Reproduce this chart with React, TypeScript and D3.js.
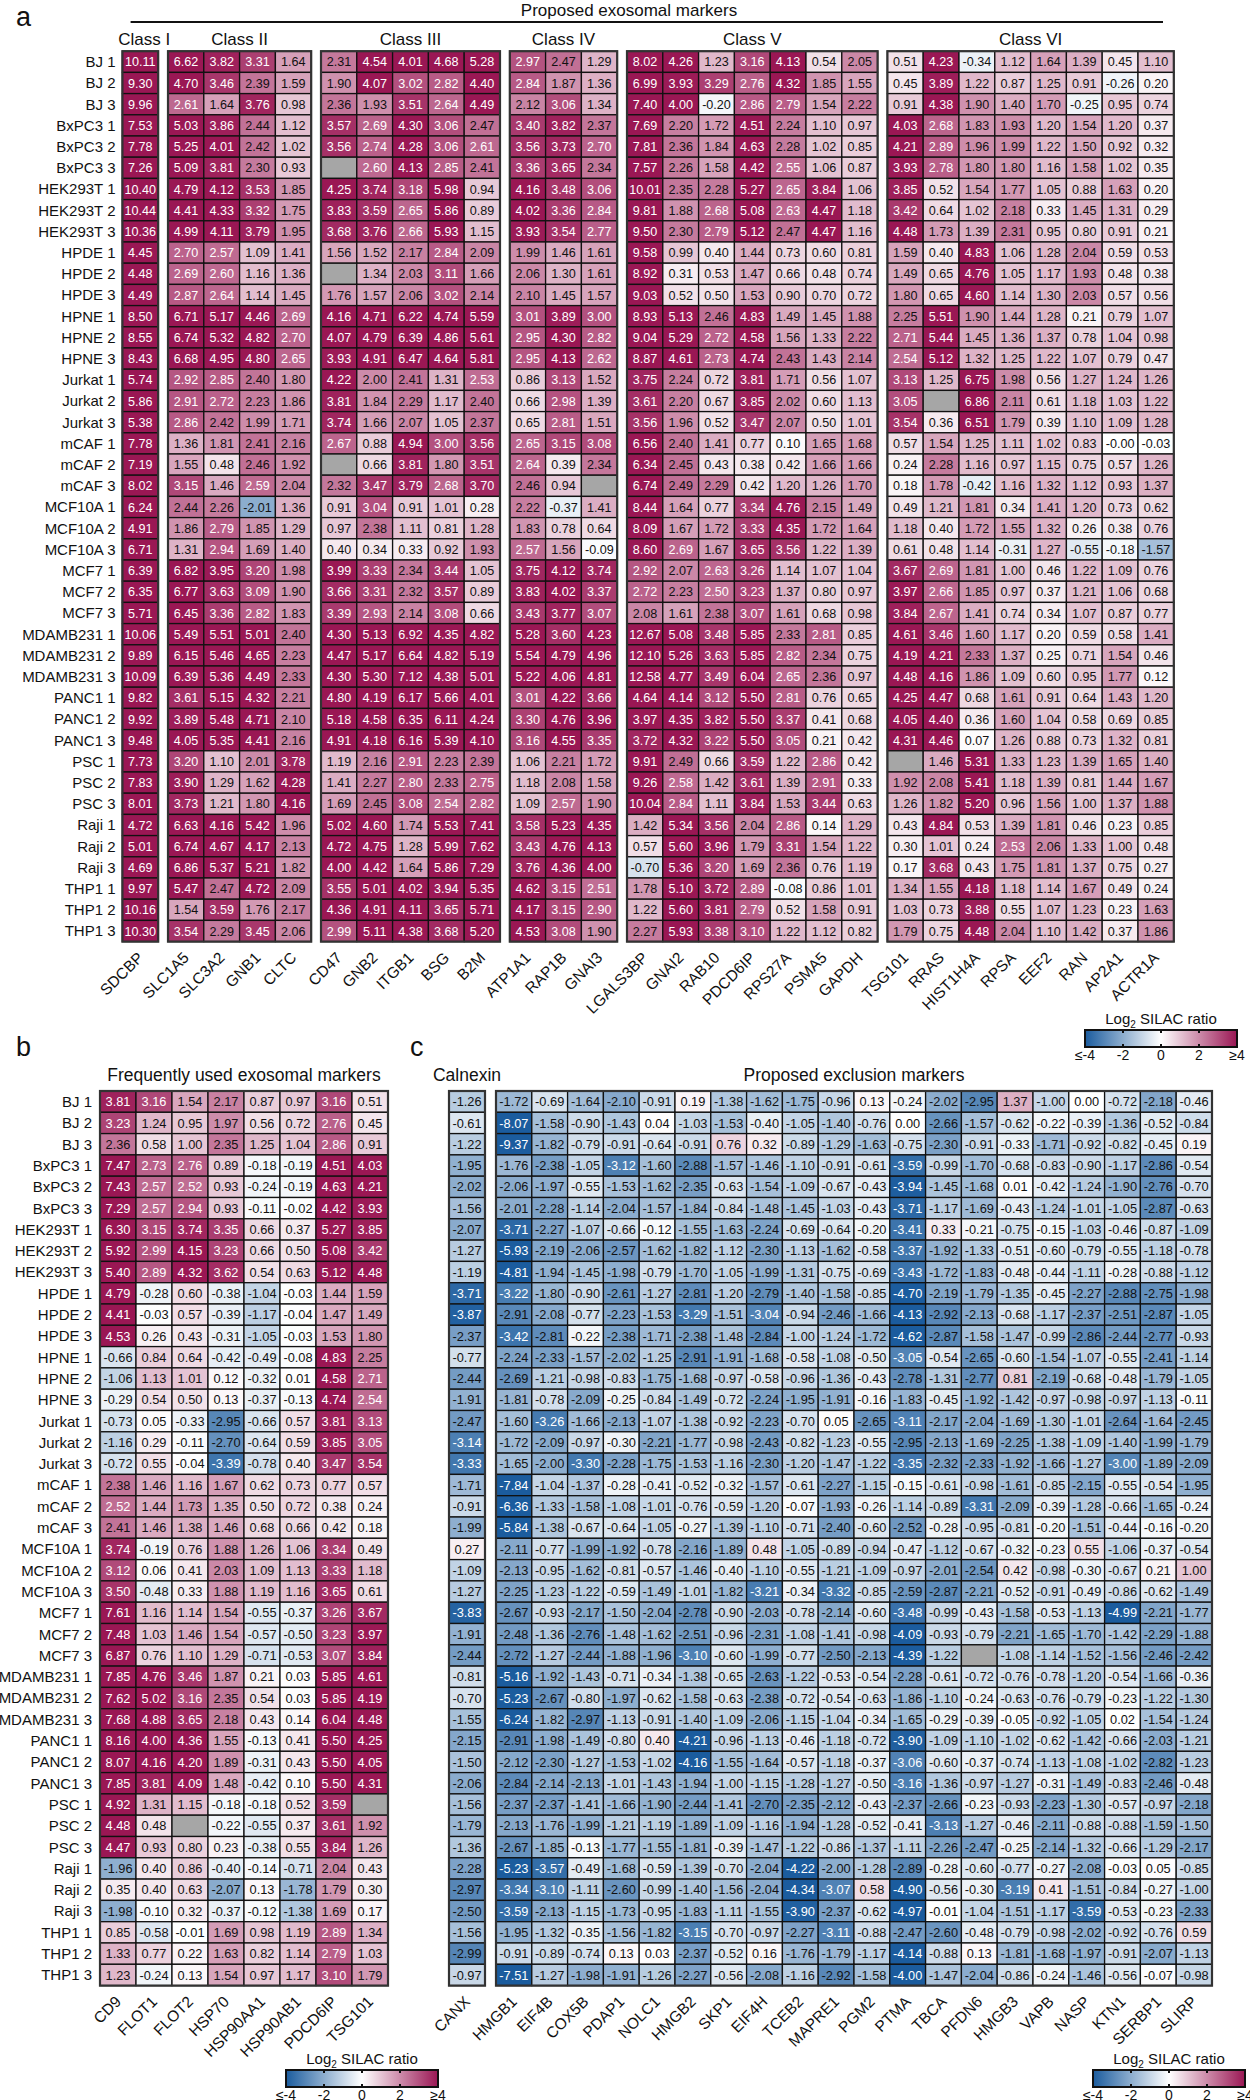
import React from "react";
import * as d3 from "d3";

const FONT = "'Liberation Sans', Arial, Helvetica, sans-serif";
const N = null;

const cellLines = [
  "BJ 1", "BJ 2", "BJ 3", "BxPC3 1", "BxPC3 2", "BxPC3 3", "HEK293T 1", "HEK293T 2", "HEK293T 3",
  "HPDE 1", "HPDE 2", "HPDE 3", "HPNE 1", "HPNE 2", "HPNE 3", "Jurkat 1", "Jurkat 2", "Jurkat 3",
  "mCAF 1", "mCAF 2", "mCAF 3", "MCF10A 1", "MCF10A 2", "MCF10A 3", "MCF7 1", "MCF7 2", "MCF7 3",
  "MDAMB231 1", "MDAMB231 2", "MDAMB231 3", "PANC1 1", "PANC1 2", "PANC1 3", "PSC 1", "PSC 2", "PSC 3",
  "Raji 1", "Raji 2", "Raji 3", "THP1 1", "THP1 2", "THP1 3",
];

const classLabels = ["Class I", "Class II", "Class III", "Class IV", "Class V", "Class VI"];
const classGenes = [
  ["SDCBP"],
  ["SLC1A5", "SLC3A2", "GNB1", "CLTC"],
  ["CD47", "GNB2", "ITGB1", "BSG", "B2M"],
  ["ATP1A1", "RAP1B", "GNAI3"],
  ["LGALS3BP", "GNAI2", "RAB10", "PDCD6IP", "RPS27A", "PSMA5", "GAPDH"],
  ["TSG101", "RRAS", "HIST1H4A", "RPSA", "EEF2", "RAN", "AP2A1", "ACTR1A"],
];

// Panel a: 42 rows x 28 genes (Class I..VI in order)
const proposedMarkers: (number | null)[][] = [
  [10.11, 6.62, 3.82, 3.31, 1.64, 2.31, 4.54, 4.01, 4.68, 5.28, 2.97, 2.47, 1.29, 8.02, 4.26, 1.23, 3.16, 4.13, 0.54, 2.05, 0.51, 4.23, -0.34, 1.12, 1.64, 1.39, 0.45, 1.10],
  [9.30, 4.70, 3.46, 2.39, 1.59, 1.90, 4.07, 3.02, 2.82, 4.40, 2.84, 1.87, 1.36, 6.99, 3.93, 3.29, 2.76, 4.32, 1.85, 1.55, 0.45, 3.89, 1.22, 0.87, 1.25, 0.91, -0.26, 0.20],
  [9.96, 2.61, 1.64, 3.76, 0.98, 2.36, 1.93, 3.51, 2.64, 4.49, 2.12, 3.06, 1.34, 7.40, 4.00, -0.20, 2.86, 2.79, 1.54, 2.22, 0.91, 4.38, 1.90, 1.40, 1.70, -0.25, 0.95, 0.74],
  [7.53, 5.03, 3.86, 2.44, 1.12, 3.57, 2.69, 4.30, 3.06, 2.47, 3.40, 3.82, 2.37, 7.69, 2.20, 1.72, 4.51, 2.24, 1.10, 0.97, 4.03, 2.68, 1.83, 1.93, 1.20, 1.54, 1.20, 0.37],
  [7.78, 5.25, 4.01, 2.42, 1.02, 3.56, 2.74, 4.28, 3.06, 2.61, 3.56, 3.73, 2.70, 7.81, 2.36, 1.84, 4.63, 2.28, 1.02, 0.85, 4.21, 2.89, 1.96, 1.99, 1.22, 1.50, 0.92, 0.32],
  [7.26, 5.09, 3.81, 2.30, 0.93, N, 2.60, 4.13, 2.85, 2.41, 3.36, 3.65, 2.34, 7.57, 2.26, 1.58, 4.42, 2.55, 1.06, 0.87, 3.93, 2.78, 1.80, 1.80, 1.16, 1.58, 1.02, 0.35],
  [10.40, 4.79, 4.12, 3.53, 1.85, 4.25, 3.74, 3.18, 5.98, 0.94, 4.16, 3.48, 3.06, 10.01, 2.35, 2.28, 5.27, 2.65, 3.84, 1.06, 3.85, 0.52, 1.54, 1.77, 1.05, 0.88, 1.63, 0.20],
  [10.44, 4.41, 4.33, 3.32, 1.75, 3.83, 3.59, 2.65, 5.86, 0.89, 4.02, 3.36, 2.84, 9.81, 1.88, 2.68, 5.08, 2.63, 4.47, 1.18, 3.42, 0.64, 1.02, 2.18, 0.33, 1.45, 1.31, 0.29],
  [10.36, 4.99, 4.11, 3.79, 1.95, 3.68, 3.76, 2.66, 5.93, 1.15, 3.93, 3.54, 2.77, 9.50, 2.30, 2.79, 5.12, 2.47, 4.47, 1.16, 4.48, 1.73, 1.39, 2.31, 0.95, 0.80, 0.91, 0.21],
  [4.45, 2.70, 2.57, 1.09, 1.41, 1.56, 1.52, 2.17, 2.84, 2.09, 1.99, 1.46, 1.61, 9.58, 0.99, 0.40, 1.44, 0.73, 0.60, 0.81, 1.59, 0.40, 4.83, 1.06, 1.28, 2.04, 0.59, 0.53],
  [4.48, 2.69, 2.60, 1.16, 1.36, N, 1.34, 2.03, 3.11, 1.66, 2.06, 1.30, 1.61, 8.92, 0.31, 0.53, 1.47, 0.66, 0.48, 0.74, 1.49, 0.65, 4.76, 1.05, 1.17, 1.93, 0.48, 0.38],
  [4.49, 2.87, 2.64, 1.14, 1.45, 1.76, 1.57, 2.06, 3.02, 2.14, 2.10, 1.45, 1.57, 9.03, 0.52, 0.50, 1.53, 0.90, 0.70, 0.72, 1.80, 0.65, 4.60, 1.14, 1.30, 2.03, 0.57, 0.56],
  [8.50, 6.71, 5.17, 4.46, 2.69, 4.16, 4.71, 6.22, 4.74, 5.59, 3.01, 3.89, 3.00, 8.93, 5.13, 2.46, 4.83, 1.49, 1.45, 1.88, 2.25, 5.51, 1.90, 1.44, 1.28, 0.21, 0.79, 1.07],
  [8.55, 6.74, 5.32, 4.82, 2.70, 4.07, 4.79, 6.39, 4.86, 5.61, 2.95, 4.30, 2.82, 9.04, 5.29, 2.72, 4.58, 1.56, 1.33, 2.22, 2.71, 5.44, 1.45, 1.36, 1.37, 0.78, 1.04, 0.98],
  [8.43, 6.68, 4.95, 4.80, 2.65, 3.93, 4.91, 6.47, 4.64, 5.81, 2.95, 4.13, 2.62, 8.87, 4.61, 2.73, 4.74, 2.43, 1.43, 2.14, 2.54, 5.12, 1.32, 1.25, 1.22, 1.07, 0.79, 0.47],
  [5.74, 2.92, 2.85, 2.40, 1.80, 4.22, 2.00, 2.41, 1.31, 2.53, 0.86, 3.13, 1.52, 3.75, 2.24, 0.72, 3.81, 1.71, 0.56, 1.07, 3.13, 1.25, 6.75, 1.98, 0.56, 1.27, 1.24, 1.26],
  [5.86, 2.91, 2.72, 2.23, 1.86, 3.81, 1.84, 2.29, 1.17, 2.40, 0.66, 2.98, 1.39, 3.61, 2.20, 0.67, 3.85, 2.02, 0.60, 1.13, 3.05, N, 6.86, 2.11, 0.61, 1.18, 1.03, 1.22],
  [5.38, 2.86, 2.42, 1.99, 1.71, 3.74, 1.66, 2.07, 1.05, 2.37, 0.65, 2.81, 1.51, 3.56, 1.96, 0.52, 3.47, 2.07, 0.50, 1.01, 3.54, 0.36, 6.51, 1.79, 0.39, 1.10, 1.09, 1.28],
  [7.78, 1.36, 1.81, 2.41, 2.16, 2.67, 0.88, 4.94, 3.00, 3.56, 2.65, 3.15, 3.08, 6.56, 2.40, 1.41, 0.77, 0.10, 1.65, 1.68, 0.57, 1.54, 1.25, 1.11, 1.02, 0.83, -0.00, -0.03],
  [7.19, 1.55, 0.48, 2.46, 1.92, N, 0.66, 3.81, 1.80, 3.51, 2.64, 0.39, 2.34, 6.34, 2.45, 0.43, 0.38, 0.42, 1.66, 1.66, 0.24, 2.28, 1.16, 0.97, 1.15, 0.75, 0.57, 1.26],
  [8.02, 3.15, 1.46, 2.59, 2.04, 2.32, 3.47, 3.79, 2.68, 3.70, 2.46, 0.94, N, 6.74, 2.49, 2.29, 0.42, 1.20, 1.26, 1.70, 0.18, 1.78, -0.42, 1.16, 1.32, 1.12, 0.93, 1.37],
  [6.24, 2.44, 2.26, -2.01, 1.36, 0.91, 3.04, 0.91, 1.01, 0.28, 2.22, -0.37, 1.41, 8.44, 1.64, 0.77, 3.34, 4.76, 2.15, 1.49, 0.49, 1.21, 1.81, 0.34, 1.41, 1.20, 0.73, 0.62],
  [4.91, 1.86, 2.79, 1.85, 1.29, 0.97, 2.38, 1.11, 0.81, 1.28, 1.83, 0.78, 0.64, 8.09, 1.67, 1.72, 3.33, 4.35, 1.72, 1.64, 1.18, 0.40, 1.72, 1.55, 1.32, 0.26, 0.38, 0.76],
  [6.71, 1.31, 2.94, 1.69, 1.40, 0.40, 0.34, 0.33, 0.92, 1.93, 2.57, 1.56, -0.09, 8.60, 2.69, 1.67, 3.65, 3.56, 1.22, 1.39, 0.61, 0.48, 1.14, -0.31, 1.27, -0.55, -0.18, -1.57],
  [6.39, 6.82, 3.95, 3.20, 1.98, 3.99, 3.33, 2.34, 3.44, 1.05, 3.75, 4.12, 3.74, 2.92, 2.07, 2.63, 3.26, 1.14, 1.07, 1.04, 3.67, 2.69, 1.81, 1.00, 0.46, 1.22, 1.09, 0.76],
  [6.35, 6.77, 3.63, 3.09, 1.90, 3.66, 3.31, 2.32, 3.57, 0.89, 3.83, 4.02, 3.37, 2.72, 2.23, 2.50, 3.23, 1.37, 0.80, 0.97, 3.97, 2.66, 1.85, 0.97, 0.37, 1.21, 1.06, 0.68],
  [5.71, 6.45, 3.36, 2.82, 1.83, 3.39, 2.93, 2.14, 3.08, 0.66, 3.43, 3.77, 3.07, 2.08, 1.61, 2.38, 3.07, 1.61, 0.68, 0.98, 3.84, 2.67, 1.41, 0.74, 0.34, 1.07, 0.87, 0.77],
  [10.06, 5.49, 5.51, 5.01, 2.40, 4.30, 5.13, 6.92, 4.35, 4.82, 5.28, 3.60, 4.23, 12.67, 5.08, 3.48, 5.85, 2.33, 2.81, 0.85, 4.61, 3.46, 1.60, 1.17, 0.20, 0.59, 0.58, 1.41],
  [9.89, 6.15, 5.46, 4.65, 2.23, 4.47, 5.17, 6.64, 4.82, 5.19, 5.54, 4.79, 4.96, 12.10, 5.26, 3.63, 5.85, 2.82, 2.34, 0.75, 4.19, 4.21, 2.33, 1.37, 0.25, 0.71, 1.54, 0.46],
  [10.09, 6.39, 5.36, 4.49, 2.33, 4.30, 5.30, 7.12, 4.38, 5.01, 5.22, 4.06, 4.81, 12.58, 4.77, 3.49, 6.04, 2.65, 2.36, 0.97, 4.48, 4.16, 1.86, 1.09, 0.60, 0.95, 1.77, 0.12],
  [9.82, 3.61, 5.15, 4.32, 2.21, 4.80, 4.19, 6.17, 5.66, 4.01, 3.01, 4.22, 3.66, 4.64, 4.14, 3.12, 5.50, 2.81, 0.76, 0.65, 4.25, 4.47, 0.68, 1.61, 0.91, 0.64, 1.43, 1.20],
  [9.92, 3.89, 5.48, 4.71, 2.10, 5.18, 4.58, 6.35, 6.11, 4.24, 3.30, 4.76, 3.96, 3.97, 4.35, 3.82, 5.50, 3.37, 0.41, 0.68, 4.05, 4.40, 0.36, 1.60, 1.04, 0.58, 0.69, 0.85],
  [9.48, 4.05, 5.35, 4.41, 2.16, 4.91, 4.18, 6.16, 5.39, 4.10, 3.16, 4.55, 3.35, 3.72, 4.32, 3.22, 5.50, 3.05, 0.21, 0.42, 4.31, 4.46, 0.07, 1.26, 0.88, 0.73, 1.32, 0.81],
  [7.73, 3.20, 1.10, 2.01, 3.78, 1.19, 2.16, 2.91, 2.23, 2.39, 1.06, 2.21, 1.72, 9.91, 2.49, 0.66, 3.59, 1.22, 2.86, 0.42, N, 1.46, 5.31, 1.33, 1.23, 1.39, 1.65, 1.40],
  [7.83, 3.90, 1.29, 1.62, 4.28, 1.41, 2.27, 2.80, 2.33, 2.75, 1.18, 2.08, 1.58, 9.26, 2.58, 1.42, 3.61, 1.39, 2.91, 0.33, 1.92, 2.08, 5.41, 1.18, 1.39, 0.81, 1.44, 1.67],
  [8.01, 3.73, 1.21, 1.80, 4.16, 1.69, 2.45, 3.08, 2.54, 2.82, 1.09, 2.57, 1.90, 10.04, 2.84, 1.11, 3.84, 1.53, 3.44, 0.63, 1.26, 1.82, 5.20, 0.96, 1.56, 1.00, 1.37, 1.88],
  [4.72, 6.63, 4.16, 5.42, 1.96, 5.02, 4.60, 1.74, 5.53, 7.41, 3.58, 5.23, 4.35, 1.42, 5.34, 3.56, 2.04, 2.86, 0.14, 1.29, 0.43, 4.84, 0.53, 1.39, 1.81, 0.46, 0.23, 0.85],
  [5.01, 6.74, 4.67, 4.17, 2.13, 4.72, 4.75, 1.28, 5.99, 7.62, 3.43, 4.76, 4.13, 0.57, 5.60, 3.96, 1.79, 3.31, 1.54, 1.22, 0.30, 1.01, 0.24, 2.53, 2.06, 1.33, 1.00, 0.48],
  [4.69, 6.86, 5.37, 5.21, 1.82, 4.00, 4.42, 1.64, 5.86, 7.29, 3.76, 4.36, 4.00, -0.70, 5.36, 3.20, 1.69, 2.36, 0.76, 1.19, 0.17, 3.68, 0.43, 1.75, 1.81, 1.37, 0.75, 0.27],
  [9.97, 5.47, 2.47, 4.72, 2.09, 3.55, 5.01, 4.02, 3.94, 5.35, 4.62, 3.15, 2.51, 1.78, 5.10, 3.72, 2.89, -0.08, 0.86, 1.01, 1.34, 1.55, 4.18, 1.18, 1.14, 1.67, 0.49, 0.24],
  [10.16, 1.54, 3.59, 1.76, 2.17, 4.36, 4.91, 4.11, 3.65, 5.71, 4.17, 3.15, 2.90, 1.22, 5.60, 3.81, 2.79, 0.52, 1.58, 0.91, 1.03, 0.73, 3.88, 0.55, 1.07, 1.23, 0.23, 1.63],
  [10.30, 3.54, 2.29, 3.45, 2.06, 2.99, 5.11, 4.38, 3.68, 5.20, 4.53, 3.08, 1.90, 2.27, 5.93, 3.38, 3.10, 1.22, 1.12, 0.82, 1.79, 0.75, 4.48, 2.04, 1.10, 1.42, 0.37, 1.86],
];

// Panel b
const frequentGenes = ["CD9", "FLOT1", "FLOT2", "HSP70", "HSP90AA1", "HSP90AB1", "PDCD6IP", "TSG101"];
const frequentMarkers: (number | null)[][] = [
  [3.81, 3.16, 1.54, 2.17, 0.87, 0.97, 3.16, 0.51],
  [3.23, 1.24, 0.95, 1.97, 0.56, 0.72, 2.76, 0.45],
  [2.36, 0.58, 1.00, 2.35, 1.25, 1.04, 2.86, 0.91],
  [7.47, 2.73, 2.76, 0.89, -0.18, -0.19, 4.51, 4.03],
  [7.43, 2.57, 2.52, 0.93, -0.24, -0.19, 4.63, 4.21],
  [7.29, 2.57, 2.94, 0.93, -0.11, -0.02, 4.42, 3.93],
  [6.30, 3.15, 3.74, 3.35, 0.66, 0.37, 5.27, 3.85],
  [5.92, 2.99, 4.15, 3.23, 0.66, 0.50, 5.08, 3.42],
  [5.40, 2.89, 4.32, 3.62, 0.54, 0.63, 5.12, 4.48],
  [4.79, -0.28, 0.60, -0.38, -1.04, -0.03, 1.44, 1.59],
  [4.41, -0.03, 0.57, -0.39, -1.17, -0.04, 1.47, 1.49],
  [4.53, 0.26, 0.43, -0.31, -1.05, -0.03, 1.53, 1.80],
  [-0.66, 0.84, 0.64, -0.42, -0.49, -0.08, 4.83, 2.25],
  [-1.06, 1.13, 1.01, 0.12, -0.32, 0.01, 4.58, 2.71],
  [-0.29, 0.54, 0.50, 0.13, -0.37, -0.13, 4.74, 2.54],
  [-0.73, 0.05, -0.33, -2.95, -0.66, 0.57, 3.81, 3.13],
  [-1.16, 0.29, -0.11, -2.70, -0.64, 0.59, 3.85, 3.05],
  [-0.72, 0.55, -0.04, -3.39, -0.78, 0.40, 3.47, 3.54],
  [2.38, 1.46, 1.16, 1.67, 0.62, 0.73, 0.77, 0.57],
  [2.52, 1.44, 1.73, 1.35, 0.50, 0.72, 0.38, 0.24],
  [2.41, 1.46, 1.38, 1.46, 0.68, 0.66, 0.42, 0.18],
  [3.74, -0.19, 0.76, 1.88, 1.26, 1.06, 3.34, 0.49],
  [3.12, 0.06, 0.41, 2.03, 1.09, 1.13, 3.33, 1.18],
  [3.50, -0.48, 0.33, 1.88, 1.19, 1.16, 3.65, 0.61],
  [7.61, 1.16, 1.14, 1.54, -0.55, -0.37, 3.26, 3.67],
  [7.48, 1.03, 1.46, 1.54, -0.57, -0.50, 3.23, 3.97],
  [6.87, 0.76, 1.10, 1.29, -0.71, -0.53, 3.07, 3.84],
  [7.85, 4.76, 3.46, 1.87, 0.21, 0.03, 5.85, 4.61],
  [7.62, 5.02, 3.16, 2.35, 0.54, 0.03, 5.85, 4.19],
  [7.68, 4.88, 3.65, 2.18, 0.43, 0.14, 6.04, 4.48],
  [8.16, 4.00, 4.36, 1.55, -0.13, 0.41, 5.50, 4.25],
  [8.07, 4.16, 4.20, 1.89, -0.31, 0.43, 5.50, 4.05],
  [7.85, 3.81, 4.09, 1.48, -0.42, 0.10, 5.50, 4.31],
  [4.92, 1.31, 1.15, -0.18, -0.18, 0.52, 3.59, N],
  [4.48, 0.48, N, -0.22, -0.55, 0.37, 3.61, 1.92],
  [4.47, 0.93, 0.80, 0.23, -0.38, 0.55, 3.84, 1.26],
  [-1.96, 0.40, 0.86, -0.40, -0.14, -0.71, 2.04, 0.43],
  [0.35, 0.40, 0.63, -2.07, 0.13, -1.78, 1.79, 0.30],
  [-1.98, -0.10, 0.32, -0.37, -0.12, -1.38, 1.69, 0.17],
  [0.85, -0.58, -0.01, 1.69, 0.98, 1.19, 2.89, 1.34],
  [1.33, 0.77, 0.22, 1.63, 0.82, 1.14, 2.79, 1.03],
  [1.23, -0.24, 0.13, 1.54, 0.97, 1.17, 3.10, 1.79],
];

// Panel c
const calnexin: number[] = [
  -1.26, -0.61, -1.22, -1.95, -2.02, -1.56, -2.07, -1.27, -1.19, -3.71, -3.87, -2.37, -0.77, -2.44,
  -1.91, -2.47, -3.14, -3.33, -1.71, -0.91, -1.99, 0.27, -1.09, -1.27, -3.83, -1.91, -2.44, -0.81,
  -0.70, -1.55, -2.15, -1.50, -2.06, -1.56, -1.79, -1.36, -2.28, -2.97, -2.50, -1.56, -2.99, -0.97,
];
const exclusionGenes = [
  "HMGB1", "EIF4B", "COX5B", "PDAP1", "NOLC1", "HMGB2", "SKP1", "EIF4H", "TCEB2", "MAPRE1",
  "PGM2", "PTMA", "TBCA", "PFDN6", "HMGB3", "VAPB", "NASP", "KTN1", "SERBP1", "SLIRP",
];
const exclusionMarkers: (number | null)[][] = [
  [-1.72, -0.69, -1.64, -2.10, -0.91, 0.19, -1.38, -1.62, -1.75, -0.96, 0.13, -0.24, -2.02, -2.95, 1.37, -1.00, 0.00, -0.72, -2.18, -0.46],
  [-8.07, -1.58, -0.90, -1.43, 0.04, -1.03, -1.53, -0.40, -1.05, -1.40, -0.76, 0.00, -2.66, -1.57, -0.62, -0.22, -0.39, -1.36, -0.52, -0.84],
  [-9.37, -1.82, -0.79, -0.91, -0.64, -0.91, 0.76, 0.32, -0.89, -1.29, -1.63, -0.75, -2.30, -0.91, -0.33, -1.71, -0.92, -0.82, -0.45, 0.19],
  [-1.76, -2.38, -1.05, -3.12, -1.60, -2.88, -1.57, -1.46, -1.10, -0.91, -0.61, -3.59, -0.99, -1.70, -0.68, -0.83, -0.90, -1.17, -2.86, -0.54],
  [-2.06, -1.97, -0.55, -1.53, -1.62, -2.35, -0.63, -1.54, -1.09, -0.67, -0.43, -3.94, -1.45, -1.68, 0.01, -0.42, -1.24, -1.90, -2.76, -0.70],
  [-2.01, -2.28, -1.14, -2.04, -1.57, -1.84, -0.84, -1.48, -1.45, -1.03, -0.43, -3.71, -1.17, -1.69, -0.43, -1.24, -1.01, -1.05, -2.87, -0.63],
  [-3.71, -2.27, -1.07, -0.66, -0.12, -1.55, -1.63, -2.24, -0.69, -0.64, -0.20, -3.41, 0.33, -0.21, -0.75, -0.15, -1.03, -0.46, -0.87, -1.09],
  [-5.93, -2.19, -2.06, -2.57, -1.62, -1.82, -1.12, -2.30, -1.13, -1.62, -0.58, -3.37, -1.92, -1.33, -0.51, -0.60, -0.79, -0.55, -1.18, -0.78],
  [-4.81, -1.94, -1.45, -1.98, -0.79, -1.70, -1.05, -1.99, -1.31, -0.75, -0.69, -3.43, -1.72, -1.83, -0.48, -0.44, -1.11, -0.28, -0.88, -1.12],
  [-3.22, -1.80, -0.90, -2.61, -1.27, -2.81, -1.20, -2.79, -1.40, -1.58, -0.85, -4.70, -2.19, -1.79, -1.35, -0.45, -2.27, -2.88, -2.75, -1.98],
  [-2.91, -2.08, -0.77, -2.23, -1.53, -3.29, -1.51, -3.04, -0.94, -2.46, -1.66, -4.13, -2.92, -2.13, -0.68, -1.17, -2.37, -2.51, -2.87, -1.05],
  [-3.42, -2.81, -0.22, -2.38, -1.71, -2.38, -1.48, -2.84, -1.00, -1.24, -1.72, -4.62, -2.87, -1.58, -1.47, -0.99, -2.86, -2.44, -2.77, -0.93],
  [-2.24, -2.33, -1.57, -2.02, -1.25, -2.91, -1.91, -1.68, -0.58, -1.08, -0.50, -3.05, -0.54, -2.65, -0.60, -1.54, -1.07, -0.55, -2.41, -1.14],
  [-2.69, -1.21, -0.98, -0.83, -1.75, -1.68, -0.97, -0.58, -0.96, -1.36, -0.43, -2.78, -1.31, -2.77, 0.81, -2.19, -0.68, -0.48, -1.79, -1.05],
  [-1.81, -0.78, -2.09, -0.25, -0.84, -1.49, -0.72, -2.24, -1.95, -1.91, -0.16, -1.83, -0.45, -1.92, -1.42, -0.97, -0.98, -0.97, -1.13, -0.11],
  [-1.60, -3.26, -1.66, -2.13, -1.07, -1.38, -0.92, -2.23, -0.70, 0.05, -2.65, -3.11, -2.17, -2.04, -1.69, -1.30, -1.01, -2.64, -1.64, -2.45],
  [-1.72, -2.09, -0.97, -0.30, -2.21, -1.77, -0.98, -2.43, -0.82, -1.23, -0.55, -2.95, -2.13, -1.69, -2.25, -1.38, -1.09, -1.40, -1.99, -1.79],
  [-1.65, -2.00, -3.30, -2.28, -1.75, -1.53, -1.16, -2.30, -1.20, -1.47, -1.22, -3.35, -2.32, -2.33, -1.92, -1.66, -1.27, -3.00, -1.89, -2.09],
  [-7.84, -1.04, -1.37, -0.28, -0.41, -0.52, -0.32, -1.57, -0.61, -2.27, -1.15, -0.15, -0.61, -0.98, -1.61, -0.85, -2.15, -0.55, -0.54, -1.95],
  [-6.36, -1.33, -1.58, -1.08, -1.01, -0.76, -0.59, -1.20, -0.07, -1.93, -0.26, -1.14, -0.89, -3.31, -2.09, -0.39, -1.28, -0.66, -1.65, -0.24],
  [-5.84, -1.38, -0.67, -0.64, -1.05, -0.27, -1.39, -1.10, -0.71, -2.40, -0.60, -2.52, -0.28, -0.95, -0.81, -0.20, -1.51, -0.44, -0.16, -0.20],
  [-2.11, -0.77, -1.99, -1.92, -0.78, -2.16, -1.89, 0.48, -1.05, -0.89, -0.94, -0.47, -1.12, -0.67, -0.32, -0.23, 0.55, -1.06, -0.37, -0.54],
  [-2.13, -0.95, -1.62, -0.81, -0.57, -1.46, -0.40, -1.10, -0.55, -1.21, -1.09, -0.97, -2.01, -2.54, 0.42, -0.98, -0.30, -0.67, 0.21, 1.00],
  [-2.25, -1.23, -1.22, -0.59, -1.49, -1.01, -1.82, -3.21, -0.34, -3.32, -0.85, -2.59, -2.87, -2.21, -0.52, -0.91, -0.49, -0.86, -0.62, -1.49],
  [-2.67, -0.93, -2.17, -1.50, -2.04, -2.78, -0.90, -2.03, -0.78, -2.14, -0.60, -3.48, -0.99, -0.43, -1.58, -0.53, -1.13, -4.99, -2.21, -1.77],
  [-2.48, -1.36, -2.76, -1.48, -1.62, -2.51, -0.96, -2.31, -1.08, -1.41, -0.98, -4.09, -0.93, -0.79, -2.21, -1.65, -1.70, -1.42, -2.29, -1.88],
  [-2.72, -1.27, -2.44, -1.88, -1.96, -3.10, -0.60, -1.99, -0.77, -2.50, -2.13, -4.39, -1.22, N, -1.08, -1.14, -1.52, -1.56, -2.46, -2.42],
  [-5.16, -1.92, -1.43, -0.71, -0.34, -1.38, -0.65, -2.63, -1.22, -0.53, -0.54, -2.28, -0.61, -0.72, -0.76, -0.78, -1.20, -0.54, -1.66, -0.36],
  [-5.23, -2.67, -0.80, -1.97, -0.62, -1.58, -0.63, -2.38, -0.72, -0.54, -0.63, -1.86, -1.10, -0.24, -0.63, -0.76, -0.79, -0.23, -1.22, -1.30],
  [-6.24, -1.82, -2.97, -1.13, -0.91, -1.40, -1.09, -2.06, -1.15, -1.04, -0.34, -1.65, -0.29, -0.39, -0.05, -0.92, -1.05, 0.02, -1.54, -1.24],
  [-2.91, -1.98, -1.49, -0.80, 0.40, -4.21, -0.96, -1.13, -0.46, -1.18, -0.72, -3.90, -1.09, -1.10, -1.02, -0.62, -1.42, -0.66, -2.03, -1.21],
  [-2.12, -2.30, -1.27, -1.53, -1.02, -4.16, -1.55, -1.64, -0.57, -1.18, -0.37, -3.06, -0.60, -0.37, -0.74, -1.13, -1.08, -1.02, -2.82, -1.23],
  [-2.84, -2.14, -2.13, -1.01, -1.43, -1.94, -1.00, -1.15, -1.28, -1.27, -0.50, -3.16, -1.36, -0.97, -1.27, -0.31, -1.49, -0.83, -2.46, -0.48],
  [-2.37, -2.37, -1.41, -1.66, -1.90, -2.44, -1.41, -2.70, -2.35, -2.12, -0.43, -2.37, -2.66, -0.23, -0.93, -2.23, -1.30, -0.57, -0.97, -2.18],
  [-2.13, -1.76, -1.99, -1.21, -1.19, -1.89, -1.09, -1.16, -1.94, -1.28, -0.52, -0.41, -3.13, -1.27, -0.46, -2.11, -0.88, -0.88, -1.59, -1.50],
  [-2.67, -1.85, -0.13, -1.77, -1.55, -1.81, -0.39, -1.47, -1.22, -0.86, -1.37, -1.11, -2.26, -2.47, -0.25, -2.14, -1.32, -0.66, -1.29, -2.17],
  [-5.23, -3.57, -0.49, -1.68, -0.59, -1.39, -0.70, -2.04, -4.22, -2.00, -1.28, -2.89, -0.28, -0.60, -0.77, -0.27, -2.08, -0.03, 0.05, -0.85],
  [-3.34, -3.10, -1.11, -2.60, -0.99, -1.40, -1.56, -2.04, -4.34, -3.07, 0.58, -4.90, -0.56, -0.30, -3.19, 0.41, -1.51, -0.84, -0.27, -1.00],
  [-3.59, -2.13, -1.15, -1.73, -0.95, -1.83, -1.11, -1.55, -3.90, -2.37, -0.62, -4.97, -0.01, -1.04, -1.51, -1.17, -3.59, -0.53, -0.23, -2.33],
  [-1.95, -1.32, -0.35, -1.56, -1.82, -3.15, -0.70, -0.97, -2.27, -3.11, -0.88, -2.47, -2.60, -0.48, -0.79, -0.98, -2.02, -0.92, -0.76, 0.59],
  [-0.91, -0.89, -0.74, 0.13, 0.03, -2.37, -0.52, 0.16, -1.76, -1.79, -1.17, -4.14, -0.88, 0.13, -1.81, -1.68, -1.97, -0.91, -2.07, -1.13],
  [-7.51, -1.27, -1.98, -1.91, -1.26, -2.27, -0.56, -2.08, -1.16, -2.92, -1.58, -4.00, -1.47, -2.04, -0.86, -0.24, -1.46, -0.56, -0.07, -0.98],
];

const legendTicks = [-4, -2, 0, 2, 4];
const legendTickLabels = ["≤-4", "-2", "0", "2", "≥4"];

const BLUE = "#1b5c9e";
const MAROON = "#9a1754";
const MISSING = "#a6a6a6";

const color = d3
  .scaleLinear<string>()
  .domain([-4, 0, 4])
  .range([BLUE, "#ffffff", MAROON])
  .interpolate(d3.interpolateRgb)
  .clamp(true);

const fmt = (v: number) => (v < 0 || Object.is(v, -0) ? "-" + Math.abs(v).toFixed(2) : v.toFixed(2));
const textFill = (v: number) => (v >= 2.5 || v <= -3.0 ? "#ffffff" : "#111111");

type BlockProps = {
  x0: number;
  y: d3.ScaleBand<string>;
  cellW: number;
  cols: number;
  getValue: (r: number, c: number) => number | null;
  fs: number;
};

function Block({ x0, y, cellW, cols, getValue, fs }: BlockProps) {
  const x = d3.scaleBand<number>().domain(d3.range(cols)).range([x0, x0 + cols * cellW]);
  const rh = y.bandwidth();
  const [y0, y1] = y.range();
  return (
    <g>
      {cellLines.map((rl, r) =>
        d3.range(cols).map((c) => {
          const v = getValue(r, c);
          const cx = x(c)!;
          const cy = y(rl)!;
          return (
            <g key={`${r}-${c}`}>
              <rect
                x={cx}
                y={cy}
                width={x.bandwidth()}
                height={rh}
                fill={v === null ? MISSING : color(v)}
                stroke="#111"
                strokeWidth={1.3}
              />
              {v !== null && (
                <text
                  x={cx + x.bandwidth() / 2}
                  y={cy + rh / 2}
                  dy="0.36em"
                  textAnchor="middle"
                  fontSize={fs}
                  fill={textFill(v)}
                >
                  {fmt(v)}
                </text>
              )}
            </g>
          );
        })
      )}
      <rect x={x0} y={y0} width={cols * cellW} height={y1 - y0} fill="none" stroke="#333" strokeWidth={2.2} />
    </g>
  );
}

function XLabels({ x0, cellW, genes, bottom }: { x0: number; cellW: number; genes: string[]; bottom: number }) {
  const x = d3.scaleBand<string>().domain(genes).range([x0, x0 + genes.length * cellW]);
  return (
    <g>
      {genes.map((g) => {
        const cx = x(g)! + x.bandwidth() / 2;
        return (
          <text
            key={g}
            transform={`translate(${cx + 4},${bottom + 17}) rotate(-45)`}
            textAnchor="end"
            fontSize={15.5}
            fill="#111"
          >
            {g}
          </text>
        );
      })}
    </g>
  );
}

function RowLabels({ y, right }: { y: d3.ScaleBand<string>; right: number }) {
  return (
    <g>
      {cellLines.map((rl) => (
        <text key={rl} x={right} y={y(rl)! + y.bandwidth() / 2} dy="0.36em" textAnchor="end" fontSize={15} fill="#111">
          {rl}
        </text>
      ))}
    </g>
  );
}

function Legend({ x, y, w, h }: { x: number; y: number; w: number; h: number }) {
  const s = d3.scaleLinear().domain([-4, 4]).range([x, x + w]);
  return (
    <g>
      <text x={x + w / 2} y={y - 6} textAnchor="middle" fontSize={15} fill="#111">
        Log
        <tspan fontSize={10} dy={4}>
          2
        </tspan>
        <tspan dy={-4}> SILAC ratio</tspan>
      </text>
      <rect x={x} y={y} width={w} height={h} fill="url(#lgGrad)" stroke="#111" strokeWidth={2} />
      {legendTicks.slice(1, 4).map((t) => (
        <g key={t}>
          <line x1={s(t)} x2={s(t)} y1={y} y2={y + 3} stroke="#111" strokeWidth={2} />
          <line x1={s(t)} x2={s(t)} y1={y + h - 3} y2={y + h} stroke="#111" strokeWidth={2} />
        </g>
      ))}
      {legendTicks.map((t, i) => (
        <text key={t} x={s(t)} y={y + h + 13} textAnchor="middle" fontSize={14} fill="#111">
          {legendTickLabels[i]}
        </text>
      ))}
    </g>
  );
}

export default function App() {
  // Panel a layout
  const aTop = 51.2;
  const aRowH = 21.2;
  const aCellW = 35.8;
  const aGap = 9.8;
  const aX0 = 122.4;
  const yA = d3.scaleBand<string>().domain(cellLines).range([aTop, aTop + cellLines.length * aRowH]);
  const aBottom = aTop + cellLines.length * aRowH;
  const classStarts: number[] = [];
  const classOffsets: number[] = [];
  let acc = aX0;
  let off = 0;
  classGenes.forEach((g) => {
    classStarts.push(acc);
    classOffsets.push(off);
    acc += g.length * aCellW + aGap;
    off += g.length;
  });

  // Panels b / c layout
  const bTop = 1091;
  const bRowH = 21.3;
  const yB = d3.scaleBand<string>().domain(cellLines).range([bTop, bTop + cellLines.length * bRowH]);
  const bBottom = bTop + cellLines.length * bRowH;
  const bX0 = 100;
  const bCellW = 36;
  const canxX0 = 449;
  const cX0 = 496;
  const cCellW = 35.8;

  return (
    <svg
      width={1250}
      height={2100}
      style={{ position: "absolute", left: 0, top: 0, background: "#fff" }}
      fontFamily={FONT}
    >
      <defs>
        <linearGradient id="lgGrad" x1="0" x2="1" y1="0" y2="0">
          <stop offset="0" stopColor={color(-4)} />
          <stop offset="0.5" stopColor={color(0)} />
          <stop offset="1" stopColor={color(4)} />
        </linearGradient>
      </defs>
      <rect x={0} y={0} width={1250} height={2100} fill="#fff" />

      {/* Panel a */}
      <text x={16} y={26} fontSize={27} fill="#111">a</text>
      <text x={629} y={15.5} textAnchor="middle" fontSize={17} fill="#111">Proposed exosomal markers</text>
      <line x1={130.6} x2={1163} y1={22} y2={22} stroke="#111" strokeWidth={2} />
      {classGenes.map((g, i) => (
        <text key={i} x={classStarts[i] + (g.length * aCellW) / 2 + (i === 0 ? 4 : 0)} y={44.6} textAnchor="middle" fontSize={17} fill="#111">
          {classLabels[i]}
        </text>
      ))}
      <RowLabels y={yA} right={115.5} />
      {classGenes.map((g, i) => (
        <Block
          key={i}
          x0={classStarts[i]}
          y={yA}
          cellW={aCellW}
          cols={g.length}
          fs={12.6}
          getValue={(r, c) => proposedMarkers[r][classOffsets[i] + c]}
        />
      ))}
      {classGenes.map((g, i) => (
        <XLabels key={i} x0={classStarts[i]} cellW={aCellW} genes={g} bottom={aBottom} />
      ))}
      <Legend x={1085} y={1030} w={152} h={17} />

      {/* Panel b */}
      <text x={16} y={1056} fontSize={27} fill="#111">b</text>
      <text x={bX0 + (8 * bCellW) / 2} y={1081} textAnchor="middle" fontSize={17.5} fill="#111">
        Frequently used exosomal markers
      </text>
      <RowLabels y={yB} right={92} />
      <Block x0={bX0} y={yB} cellW={bCellW} cols={8} fs={12.8} getValue={(r, c) => frequentMarkers[r][c]} />
      <XLabels x0={bX0} cellW={bCellW} genes={frequentGenes} bottom={bBottom} />
      <Legend x={286} y={2070} w={152} h={17} />

      {/* Panel c */}
      <text x={410} y={1056} fontSize={27} fill="#111">c</text>
      <text x={canxX0 + 18} y={1081} textAnchor="middle" fontSize={17.5} fill="#111">Calnexin</text>
      <text x={cX0 + (20 * cCellW) / 2} y={1081} textAnchor="middle" fontSize={17.5} fill="#111">
        Proposed exclusion markers
      </text>
      <Block x0={canxX0} y={yB} cellW={36} cols={1} fs={12.8} getValue={(r) => calnexin[r]} />
      <XLabels x0={canxX0} cellW={36} genes={["CANX"]} bottom={bBottom} />
      <Block x0={cX0} y={yB} cellW={cCellW} cols={20} fs={12.8} getValue={(r, c) => exclusionMarkers[r][c]} />
      <XLabels x0={cX0} cellW={cCellW} genes={exclusionGenes} bottom={bBottom} />
      <Legend x={1093} y={2070} w={152} h={17} />
    </svg>
  );
}
